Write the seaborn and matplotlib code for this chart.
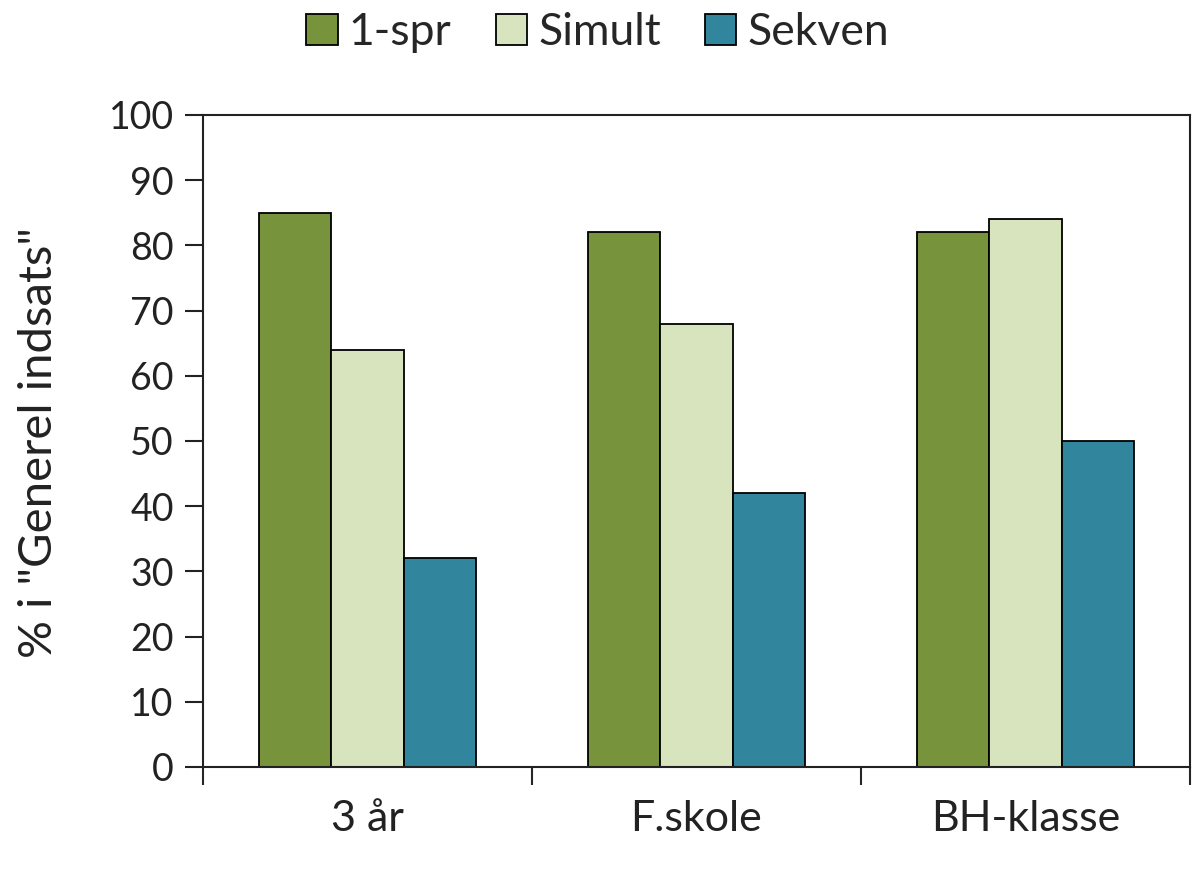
import pandas as pd
import numpy as np
import matplotlib
matplotlib.use("Agg")
import matplotlib.pyplot as plt
import seaborn as sns

# data
groups = ["3 år", "F.skole", "BH-klasse"]
series = ["1-spr", "Simult", "Sekven"]
spr1 = [85, 82, 82]
simult = [64, 68, 84]
sekven = [32, 42, 50]
colors = ["#77933C", "#D7E4BD", "#31859C"]

df = pd.DataFrame({
    "group": groups * 3,
    "serie": [series[0]] * 3 + [series[1]] * 3 + [series[2]] * 3,
    "value": spr1 + simult + sekven,
})

sns.set_style("white")
plt.rcParams["font.family"] = ["Lato", "DejaVu Sans"]
fs_num = 27
fs_txt = 31
txt = "#222222"

fig = plt.figure(figsize=(11.92, 8.69), dpi=100)
ax = fig.add_axes([0.1703, 0.1174, 0.8280, 0.7503])

sns.barplot(data=df, x="group", y="value", hue="serie", order=groups,
            hue_order=series, palette=colors, width=0.66, saturation=1,
            edgecolor="black", linewidth=1.3, ax=ax, legend=True)

ax.set_xlim(-0.5, 2.5)
ax.set_ylim(0, 100)
ax.set_yticks(np.arange(0, 101, 10))
ax.tick_params(axis="y", labelsize=fs_num, length=13, width=1.5, direction="out",
               left=True, pad=8, colors=txt)
ax.tick_params(axis="x", which="major", labelsize=fs_txt, length=0, pad=24,
               colors=txt)
ax.set_xticks([-0.5, 0.5, 1.5, 2.5], minor=True)
ax.tick_params(axis="x", which="minor", length=13, width=1.5, direction="out",
               bottom=True)
for s in ax.spines.values():
    s.set_linewidth(1.5)
    s.set_color(txt)
    s.set_visible(True)

ax.set_xlabel("")
ax.set_ylabel('% i "Generel indsats"', fontsize=34, color=txt)
ax.yaxis.set_label_coords(-0.145, 0.497)

handles, labels = ax.get_legend_handles_labels()
ax.legend(handles, labels, loc="center", bbox_to_anchor=(0.40, 1.127), ncol=3,
          frameon=False, fontsize=32, handlelength=0.7, handleheight=0.7,
          handletextpad=0.25, columnspacing=1.0)

fig.savefig("out.png", dpi=100)
